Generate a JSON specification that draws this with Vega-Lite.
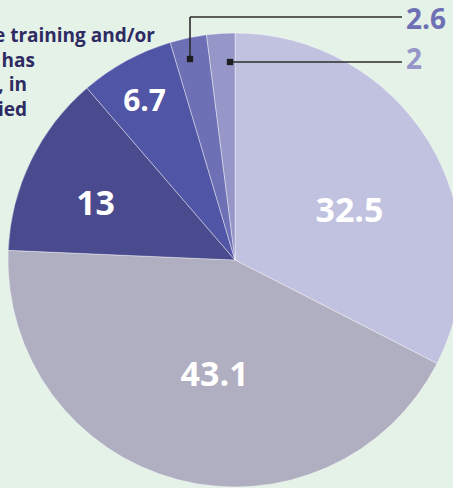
{
  "$schema": "https://vega.github.io/schema/vega-lite/v6.json",
  "width": 470,
  "height": 520,
  "autosize": {"type": "none"},
  "padding": 0,
  "background": "#e5f2e8",
  "config": {"view": {"stroke": null}},
  "datasets": {
    "slices": [
      {"label": "32.5", "value": 32.5, "rank": 1},
      {"label": "43.1", "value": 43.1, "rank": 2},
      {"label": "13", "value": 13, "rank": 3},
      {"label": "6.7", "value": 6.7, "rank": 4},
      {"label": "2.6", "value": 2.6, "rank": 5},
      {"label": "2", "value": 2, "rank": 6}
    ],
    "leaders": [
      {"x": 190, "y": 59, "x2": 190, "y2": 17},
      {"x": 190, "y": 17, "x2": 402, "y2": 17},
      {"x": 230, "y": 62, "x2": 402, "y2": 62}
    ],
    "markers": [
      {"x": 190, "y": 59},
      {"x": 230, "y": 62}
    ],
    "callouts": [
      {"label": "2.6", "x": 406, "y": 21},
      {"label": "2", "x": 406, "y": 61}
    ],
    "notes": [
      {"text": "Has completed the training and/or", "x": 155, "y": 42},
      {"text": "has", "x": 35, "y": 67},
      {"text": ", in", "x": 27, "y": 91},
      {"text": "ied", "x": 27, "y": 116}
    ]
  },
  "layer": [
    {
      "data": {"name": "slices"},
      "mark": {"type": "arc", "outerRadius": 227, "stroke": "#ffffff", "strokeWidth": 0.4},
      "encoding": {
        "theta": {"field": "value", "type": "quantitative", "stack": true},
        "order": {"field": "rank", "type": "quantitative"},
        "color": {
          "field": "label",
          "type": "nominal",
          "scale": {
            "domain": ["32.5", "43.1", "13", "6.7", "2.6", "2"],
            "range": ["#c1c1e0", "#b0aec1", "#4a4b8f", "#5155a5", "#6e70b5", "#9696c9"]
          },
          "legend": null
        }
      }
    },
    {
      "data": {"name": "slices"},
      "mark": {"type": "text", "font": "Open Sans", "fontWeight": "bold", "fontSize": 34, "fill": "#ffffff", "align": "center", "baseline": "middle", "radius": 124, "thetaOffset": 0.154},
      "encoding": {
        "theta": {"field": "value", "type": "quantitative", "stack": true},
        "order": {"field": "rank", "type": "quantitative"},
        "text": {"condition": {"test": "datum.label == '32.5'", "field": "label"}, "value": ""}
      }
    },
    {
      "data": {"name": "slices"},
      "mark": {"type": "text", "font": "Open Sans", "fontWeight": "bold", "fontSize": 34, "fill": "#ffffff", "align": "center", "baseline": "middle", "radius": 118, "thetaOffset": -0.084},
      "encoding": {
        "theta": {"field": "value", "type": "quantitative", "stack": true},
        "order": {"field": "rank", "type": "quantitative"},
        "text": {"condition": {"test": "datum.label == '43.1'", "field": "label"}, "value": ""}
      }
    },
    {
      "data": {"name": "slices"},
      "mark": {"type": "text", "font": "Open Sans", "fontWeight": "bold", "fontSize": 34, "fill": "#ffffff", "align": "center", "baseline": "middle", "radius": 150, "thetaOffset": -0.073},
      "encoding": {
        "theta": {"field": "value", "type": "quantitative", "stack": true},
        "order": {"field": "rank", "type": "quantitative"},
        "text": {"condition": {"test": "datum.label == '13'", "field": "label"}, "value": ""}
      }
    },
    {
      "data": {"name": "slices"},
      "mark": {"type": "text", "font": "Open Sans", "fontWeight": "bold", "fontSize": 30, "fill": "#ffffff", "align": "center", "baseline": "middle", "radius": 182, "thetaOffset": -0.02},
      "encoding": {
        "theta": {"field": "value", "type": "quantitative", "stack": true},
        "order": {"field": "rank", "type": "quantitative"},
        "text": {"condition": {"test": "datum.label == '6.7'", "field": "label"}, "value": ""}
      }
    },
    {
      "data": {"name": "leaders"},
      "mark": {"type": "rule", "color": "#2b2b2b", "strokeWidth": 1.6},
      "encoding": {
        "x": {"field": "x", "type": "quantitative", "scale": {"domain": [0, 470]}, "axis": null},
        "y": {"field": "y", "type": "quantitative", "scale": {"domain": [0, 520], "reverse": true}, "axis": null},
        "x2": {"field": "x2"},
        "y2": {"field": "y2"}
      }
    },
    {
      "data": {"name": "markers"},
      "mark": {"type": "square", "size": 40, "filled": true, "color": "#1e1e1e", "opacity": 1},
      "encoding": {
        "x": {"field": "x", "type": "quantitative", "scale": {"domain": [0, 470]}, "axis": null},
        "y": {"field": "y", "type": "quantitative", "scale": {"domain": [0, 520], "reverse": true}, "axis": null}
      }
    },
    {
      "data": {"name": "callouts"},
      "mark": {"type": "text", "font": "Open Sans", "fontWeight": "bold", "fontSize": 28, "align": "left", "baseline": "middle"},
      "encoding": {
        "x": {"field": "x", "type": "quantitative", "scale": {"domain": [0, 470]}, "axis": null},
        "y": {"field": "y", "type": "quantitative", "scale": {"domain": [0, 520], "reverse": true}, "axis": null},
        "text": {"field": "label", "type": "nominal"},
        "color": {"field": "label", "type": "nominal", "legend": null}
      }
    },
    {
      "data": {"name": "notes"},
      "mark": {"type": "text", "font": "Open Sans", "fontWeight": "bold", "fontSize": 19, "align": "right", "baseline": "alphabetic", "fill": "#2e2b62"},
      "encoding": {
        "x": {"field": "x", "type": "quantitative", "scale": {"domain": [0, 470]}, "axis": null},
        "y": {"field": "y", "type": "quantitative", "scale": {"domain": [0, 520], "reverse": true}, "axis": null},
        "text": {"field": "text", "type": "nominal"}
      }
    }
  ]
}
